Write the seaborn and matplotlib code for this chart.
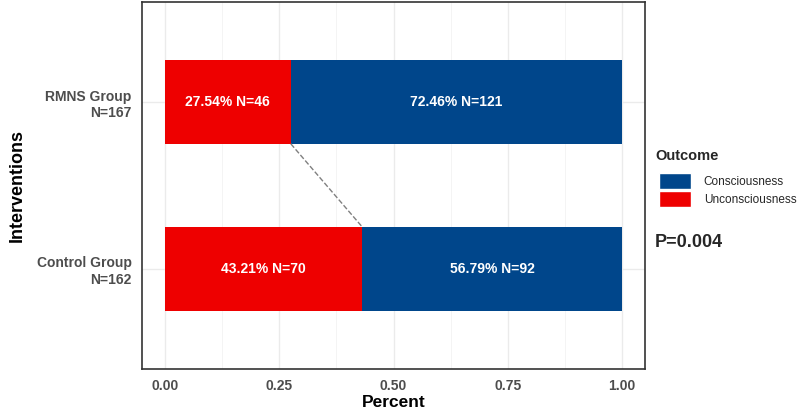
import seaborn as sns
import matplotlib.pyplot as plt
import pandas as pd
from matplotlib.patches import Patch
from matplotlib.ticker import MultipleLocator

# data
groups = ['RMNS Group\nN=167', 'Control Group\nN=162']
uncons_pct = [27.54, 43.21]
cons_pct = [72.46, 56.79]
uncons_n = [46, 70]
cons_n = [121, 92]

red = '#EE0000'
blue = '#00468B'

sns.set_style('white')
plt.rcParams['font.family'] = ['Liberation Sans', 'DejaVu Sans']

df = pd.DataFrame({
    'group': groups,
    'uncons': [v / 100 for v in uncons_pct],
    'cons': [v / 100 for v in cons_pct],
})
df['total'] = df['uncons'] + df['cons']

fig = plt.figure(figsize=(7.98, 4.12), dpi=100)
ax = fig.add_axes([142 / 798, 1 - 369 / 412, (645 - 142) / 798, (369 - 2) / 412])

sns.barplot(data=df, x='total', y='group', color=blue, width=0.5,
            saturation=1, orient='h', ax=ax, zorder=2, linewidth=0)
sns.barplot(data=df, x='uncons', y='group', color=red, width=0.5,
            saturation=1, orient='h', ax=ax, zorder=3, linewidth=0)

# labels inside bars
for i in range(len(groups)):
    u = df['uncons'][i]
    ax.text(u / 2, i, f'{uncons_pct[i]:.2f}% N={uncons_n[i]}', color='white',
            fontweight='bold', ha='center', va='center', fontsize=10, zorder=4)
    ax.text(u + df['cons'][i] / 2, i, f'{cons_pct[i]:.2f}% N={cons_n[i]}',
            color='white', fontweight='bold', ha='center', va='center',
            fontsize=10, zorder=4)

# dashed connector between the red segments
ax.plot([df['uncons'][0], df['uncons'][1]], [0.25, 0.75], ls='--',
        color='#808080', lw=1, zorder=4)

ax.set_xlim(-0.05, 1.05)
ax.set_ylim(1.6, -0.6)
ax.xaxis.set_minor_locator(MultipleLocator(0.125))
ax.set_xticks([0, 0.25, 0.5, 0.75, 1.0])
ax.set_xticklabels(['0.00', '0.25', '0.50', '0.75', '1.00'])
ax.grid(True, which='major', color='#EBEBEB', lw=1, zorder=0)
ax.grid(True, which='minor', axis='x', color='#F2F2F2', lw=0.6, zorder=0)
ax.set_axisbelow(True)

for s in ax.spines.values():
    s.set_color('#333333')
    s.set_linewidth(1.2)
ax.tick_params(axis='both', which='major', length=4, color='#333333',
               labelcolor='#4D4D4D', labelsize=10, width=1)
ax.tick_params(axis='x', which='minor', length=0)
for lab in ax.get_xticklabels() + ax.get_yticklabels():
    lab.set_fontweight('bold')
for lab in ax.get_yticklabels():
    lab.set_ha('right')
    lab.set_multialignment('right')

ax.set_xlabel('Percent', fontsize=12.5, fontweight='bold', color='black', labelpad=1)
ax.set_ylabel('Interventions', fontsize=13, fontweight='bold', color='black', labelpad=8)

# legend outside the panel
fig.text(655 / 798, 1 - 156 / 412, 'Outcome', fontsize=10.5, fontweight='bold',
         va='center', ha='left')
handles = [Patch(facecolor=blue, label='Consciousness'),
           Patch(facecolor=red, label='Unconsciousness')]
fig.legend(handles=handles, loc='upper left',
           bbox_to_anchor=(659 / 798, 1 - 173 / 412), frameon=False,
           fontsize=8.5, handlelength=2.7, handleheight=1.75,
           handletextpad=1.1, labelspacing=0.15, borderpad=0,
           borderaxespad=0)

fig.text(655 / 798, 1 - 243 / 412, 'P=0.004', fontsize=13, fontweight='bold',
         va='center', ha='left')

fig.savefig('out.png', dpi=100)
